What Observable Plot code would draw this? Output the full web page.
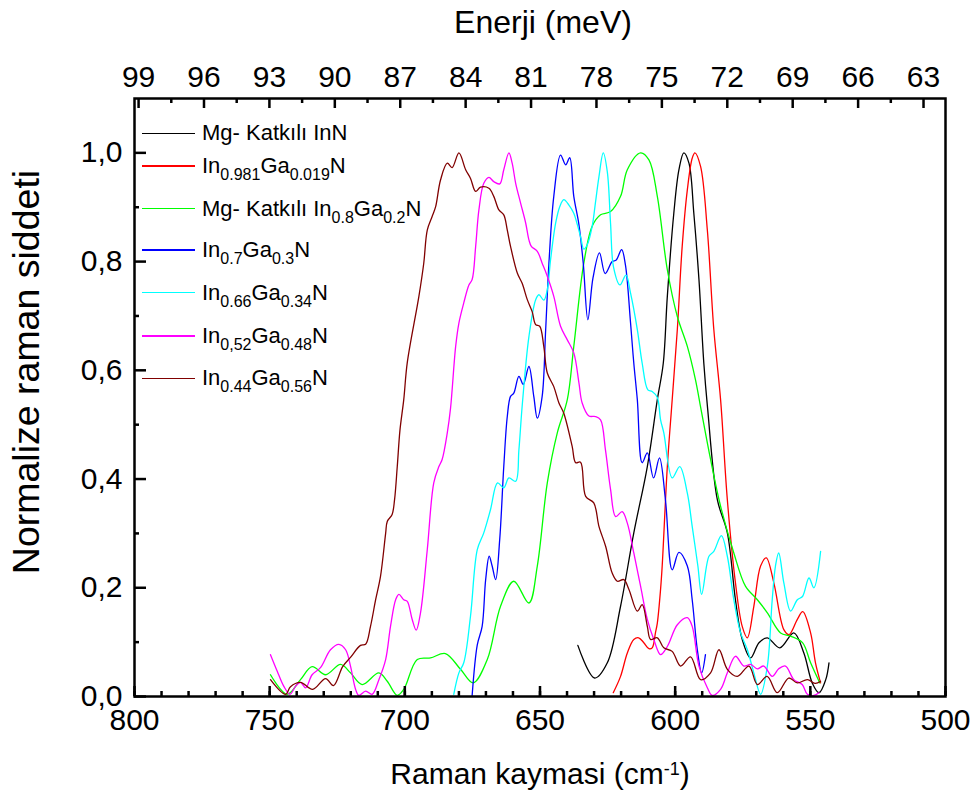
<!DOCTYPE html>
<html><head><meta charset="utf-8">
<script src="https://cdn.jsdelivr.net/npm/d3@7"></script>
<script src="https://cdn.jsdelivr.net/npm/@observablehq/plot@0.6"></script>
<style>
body{margin:0;background:#fff;font-family:"Liberation Sans",Arial,sans-serif;}
#wrap{position:relative;width:980px;height:805px;overflow:hidden;}
#wrap svg{position:absolute;left:0;top:0;}
.t{position:absolute;font-size:30px;line-height:30px;color:#000;white-space:nowrap;}
.t sup{font-size:18px;vertical-align:9px;line-height:0;}
.sw{position:absolute;height:1.4px;width:53px;left:142px;}
.lg{position:absolute;left:202px;font-size:22px;line-height:22px;white-space:nowrap;color:#000;}
.lg sub{font-size:16px;vertical-align:-7px;line-height:0;}
</style></head><body><div id="wrap"></div>
<script>
// ---- data (Raman shift cm^-1, normalized intensity) ----
const seriesNames = ["Mg- Katkılı InN","In0.981Ga0.019N","Mg- Katkılı In0.8Ga0.2N","In0.7Ga0.3N","In0.66Ga0.34N","In0,52Ga0.48N","In0.44Ga0.56N"];
const seriesLabelsHtml = ["Mg- Katkılı InN","In<sub>0.981</sub>Ga<sub>0.019</sub>N","Mg- Katkılı In<sub>0.8</sub>Ga<sub>0.2</sub>N","In<sub>0.7</sub>Ga<sub>0.3</sub>N","In<sub>0.66</sub>Ga<sub>0.34</sub>N","In<sub>0,52</sub>Ga<sub>0.48</sub>N","In<sub>0.44</sub>Ga<sub>0.56</sub>N"];
const seriesColors = ["#000000","#ff0000","#00ff00","#0000ff","#00ffff","#ff00ff","#800000"];

const mgInN = [[636.0,0.094],[629.8,0.034],[625.1,0.062],[620.2,0.166],[615.3,0.301],[610.3,0.423],[606.6,0.546],[604.4,0.613],[602.9,0.736],[600.5,0.889],[598.6,0.969],[596.8,1.0],[594.9,0.981],[593.1,0.889],[591.2,0.767],[589.4,0.613],[588.0,0.53],[584.4,0.362],[580.7,0.301],[577.7,0.178],[575.2,0.105],[572.1,0.071],[569.0,0.099],[565.9,0.108],[561.3,0.0895],[556.1,0.117],[552.4,0.080],[549.3,0.025],[546.8,0.007],[544.3,0.031],[543.1,0.062]];
const in0981 = [[622.9,0.007],[620.2,0.037],[617.7,0.080],[615.3,0.105],[613.5,0.108],[611.6,0.099],[609.7,0.088],[608.5,0.0895],[607.3,0.117],[606.6,0.135],[605.4,0.197],[604.8,0.240],[602.9,0.423],[601.1,0.546],[599.2,0.675],[597.4,0.828],[595.5,0.932],[593.7,0.990],[592.7,1.0],[590.6,0.975],[588.1,0.858],[585.7,0.675],[583.2,0.546],[580.7,0.362],[577.7,0.209],[575.2,0.129],[573.3,0.108],[570.9,0.166],[568.4,0.240],[566.3,0.255],[563.5,0.209],[559.8,0.123],[557.9,0.114],[554.8,0.142],[552.8,0.156],[549.9,0.117],[548.1,0.062],[546.2,0.025]];
const mgIn08 = [[749.7,0.040],[743.5,0.004],[738.6,0.031],[734.3,0.055],[729.3,0.040],[723.8,0.059],[720.1,0.0435],[715.8,0.022],[709.6,0.0435],[706.5,0.028],[702.8,0.002],[700.4,0.013],[695.4,0.068],[690.5,0.071],[685.0,0.079],[679.4,0.050],[674.7,0.025],[669.5,0.068],[664.6,0.166],[659.7,0.212],[654.1,0.172],[651.0,0.240],[647.3,0.393],[643.6,0.485],[639.9,0.546],[637.5,0.644],[633.8,0.797],[630.7,0.865],[627.6,0.886],[623.9,0.892],[620.2,0.920],[617.7,0.969],[612.8,1.0],[609.7,0.987],[606.6,0.920],[602.9,0.785],[599.2,0.699],[595.5,0.644],[592.5,0.583],[590.5,0.53],[586.9,0.436],[583.2,0.350],[578.3,0.264],[574.0,0.203],[569.6,0.178],[565.9,0.154],[561.0,0.117],[557.3,0.111],[552.9,0.099],[549.9,0.062],[546.5,0.025]];
const in07 = [[675.1,0.002],[673.2,0.095],[671.4,0.129],[670.1,0.215],[668.8,0.258],[667.7,0.240],[666.4,0.215],[664.9,0.289],[663.4,0.423],[662.1,0.515],[660.9,0.552],[659.7,0.558],[657.8,0.589],[656.2,0.574],[654.1,0.607],[652.3,0.552],[651.0,0.512],[649.2,0.552],[647.9,0.675],[646.7,0.797],[644.9,0.920],[642.4,0.996],[640.5,0.978],[639.0,0.991],[637.5,0.920],[635.6,0.868],[634.0,0.797],[632.3,0.693],[630.4,0.770],[628.0,0.816],[625.9,0.778],[623.3,0.800],[621.8,0.803],[619.8,0.822],[618.4,0.794],[616.5,0.687],[615.3,0.613],[614.0,0.546],[612.2,0.430],[610.3,0.448],[608.0,0.402],[605.8,0.439],[603.6,0.362],[601.1,0.233],[598.6,0.265],[595.5,0.240],[593.7,0.178],[591.8,0.086],[590.2,0.0435],[588.8,0.077]];
const in066 = [[681.9,0.004],[680.0,0.0435],[678.2,0.062],[675.7,0.148],[673.2,0.270],[670.8,0.301],[668.3,0.344],[665.7,0.393],[663.4,0.384],[661.5,0.402],[659.0,0.396],[657.8,0.454],[656.6,0.534],[654.1,0.662],[651.6,0.730],[650.4,0.739],[648.6,0.729],[647.3,0.748],[646.1,0.803],[644.2,0.871],[642.7,0.901],[641.2,0.914],[639.3,0.904],[637.5,0.889],[636.2,0.868],[635.0,0.846],[633.8,0.823],[632.5,0.831],[630.7,0.865],[629.5,0.908],[628.2,0.956],[626.6,1.0],[625.1,0.965],[623.9,0.870],[622.8,0.79],[620.4,0.757],[618.2,0.775],[616.5,0.742],[614.0,0.675],[612.2,0.613],[610.1,0.564],[608.5,0.561],[606.6,0.550],[605.4,0.509],[604.2,0.485],[601.1,0.402],[598.3,0.423],[595.5,0.374],[593.7,0.313],[591.6,0.240],[590.2,0.188],[587.5,0.258],[585.7,0.267],[582.9,0.296],[580.7,0.258],[578.3,0.178],[575.8,0.117],[573.3,0.086],[570.9,0.0435],[568.4,0.004],[565.9,0.056],[564.1,0.178],[562.9,0.240],[561.7,0.264],[559.8,0.209],[557.3,0.157],[554.8,0.178],[552.9,0.184],[550.5,0.218],[548.7,0.200],[546.2,0.267]];
const in052 = [[749.7,0.077],[747.2,0.0465],[744.8,0.019],[742.5,0.004],[740.4,0.019],[738.6,0.026],[736.7,0.016],[734.3,0.040],[731.2,0.053],[727.5,0.086],[724.4,0.096],[721.9,0.086],[720.1,0.056],[718.2,0.013],[717.0,0.002],[714.5,0.010],[712.1,0.004],[709.6,0.031],[707.1,0.068],[705.3,0.129],[703.4,0.178],[702.2,0.188],[700.4,0.178],[699.1,0.175],[697.3,0.142],[695.8,0.122],[694.2,0.154],[691.7,0.270],[689.3,0.393],[687.4,0.423],[686.2,0.436],[684.3,0.485],[683.1,0.530],[681.2,0.644],[680.0,0.687],[678.2,0.724],[676.3,0.757],[675.1,0.767],[673.8,0.828],[672.6,0.895],[670.8,0.944],[668.9,0.955],[667.1,0.947],[664.9,0.943],[663.4,0.969],[661.5,1.0],[660.3,0.981],[659.0,0.944],[657.2,0.908],[655.3,0.871],[654.1,0.840],[653.2,0.828],[651.0,0.819],[649.2,0.797],[647.3,0.773],[644.9,0.736],[642.4,0.681],[639.9,0.656],[637.5,0.632],[635.6,0.577],[634.4,0.540],[631.9,0.516],[629.5,0.515],[627.6,0.509],[625.8,0.454],[623.9,0.381],[622.0,0.331],[619.6,0.340],[617.7,0.319],[615.3,0.264],[612.8,0.203],[610.3,0.142],[607.9,0.105],[605.4,0.077],[602.9,0.092],[599.2,0.132],[595.5,0.145],[593.7,0.129],[591.2,0.056],[588.1,0.016],[586.3,0.002],[583.2,0.013],[580.7,0.0435],[577.7,0.074],[574.6,0.056],[572.1,0.059],[569.6,0.051],[567.2,0.056],[564.1,0.037],[561.7,0.051],[559.2,0.056],[556.1,0.031],[553.0,0.022],[551.1,0.004],[548.7,0.002],[546.8,0.007]];
const in044 = [[749.7,0.031],[744.1,0.004],[742.3,0.018],[738.6,0.026],[734.1,0.013],[729.3,0.033],[726.4,0.02],[723.0,0.055],[720.1,0.072],[716.4,0.094],[714.5,0.096],[712.7,0.129],[710.8,0.178],[709.0,0.221],[707.1,0.30],[706.5,0.322],[704.7,0.335],[703.8,0.362],[702.8,0.423],[701.8,0.49],[700.4,0.546],[699.1,0.614],[694.8,0.736],[693.0,0.797],[691.7,0.858],[689.9,0.883],[688.6,0.901],[686.8,0.950],[684.3,0.981],[682.5,0.973],[680.0,1.0],[677.5,0.969],[675.7,0.953],[673.8,0.929],[672.0,0.937],[668.9,0.935],[667.1,0.920],[665.2,0.895],[663.4,0.886],[662.1,0.858],[660.9,0.828],[658.4,0.779],[656.6,0.760],[654.7,0.730],[652.9,0.708],[651.6,0.684],[650.1,0.681],[648.6,0.644],[647.3,0.595],[644.9,0.570],[643.0,0.540],[641.2,0.521],[638.1,0.460],[636.8,0.430],[635.0,0.431],[633.1,0.368],[630.1,0.356],[628.2,0.313],[625.7,0.276],[623.3,0.227],[621.4,0.212],[619.0,0.215],[617.1,0.197],[614.0,0.157],[612.2,0.169],[610.3,0.129],[609.1,0.105],[606.6,0.108],[604.2,0.0895],[601.1,0.083],[598.0,0.056],[594.3,0.073],[590.6,0.031],[586.9,0.0435],[583.8,0.086],[580.7,0.050],[577.0,0.037],[572.7,0.056],[569.6,0.022],[566.0,0.037],[562.2,0.007],[558.0,0.034],[554.8,0.025],[551.1,0.031],[548.1,0.024],[546.2,0.028]];
const seriesPoints = [mgInN, in0981, mgIn08, in07, in066, in052, in044];

// ---- axes ----
const xTicks = [800,750,700,650,600,550,500];
const yTicks = [0,0.2,0.4,0.6,0.8,1.0];
const yMinor = [0.1,0.3,0.5,0.7,0.9];
const meVTicks = [99,96,93,90,87,84,81,78,75,72,69,66,63];
const meVMinor = [97.5,94.5,91.5,88.5,85.5,82.5,79.5,76.5,73.5,70.5,67.5,64.5];
const MEV_PER_CM = 0.123984;

const W = 980, H = 805, ML = 134, MR = 35, MT = 98, MB = 109;
const PW = W - ML - MR, PH = H - MT - MB;
const xMinor = d3.range(500, 801, 10);

const data = seriesPoints.flatMap((pts, i) => pts.map(([x, y]) => ({x, y, name: seriesNames[i]})));

const chart = Plot.plot({
  width: W, height: H,
  marginLeft: ML, marginRight: MR, marginTop: MT, marginBottom: MB,
  x: {domain: [800, 500]},
  y: {domain: [0, 1.1]},
  color: {domain: seriesNames, range: seriesColors},
  style: {fontFamily: '"Liberation Sans", Arial, sans-serif', fontSize: "30px", color: "#000", background: "transparent", overflow: "visible"},
  marks: [
    Plot.line(data, {x: "x", y: "y", z: "name", stroke: "name", curve: "catmull-rom", strokeWidth: 1.3}),
    Plot.tickX(xTicks, {x: d => d, insetTop: PH - 10, strokeWidth: 2.5}),
    Plot.tickX(xMinor, {x: d => d, insetTop: PH - 5, strokeWidth: 2.5}),
    Plot.tickY(yTicks, {y: d => d, insetRight: PW - 12, strokeWidth: 2.5}),
    Plot.tickY(yMinor, {y: d => d, insetRight: PW - 5, strokeWidth: 2.5}),
    Plot.tickX(meVTicks, {x: e => e / MEV_PER_CM, insetBottom: PH - 10, strokeWidth: 2.5}),
    Plot.tickX(meVMinor, {x: e => e / MEV_PER_CM, insetBottom: PH - 5, strokeWidth: 2.5}),
    Plot.axisX({anchor: "bottom", ticks: xTicks, tickSize: 0, tickPadding: 12, label: null, fontSize: 30, tickFormat: d => String(d)}),
    Plot.axisX({anchor: "top", ticks: meVTicks.map(e => e / MEV_PER_CM), tickSize: 0, tickPadding: 12, label: null, fontSize: 30, tickFormat: d => String(Math.round(d * MEV_PER_CM))}),
    Plot.axisY({anchor: "left", ticks: yTicks, tickSize: 0, tickPadding: 12, label: null, fontSize: 30, tickFormat: d => d.toFixed(1).replace(".", ",")}),
    Plot.frame({strokeWidth: 2.5})
  ]
});

const wrap = document.getElementById("wrap");
wrap.appendChild(chart);

function addDiv(cls, html, css) {
  const d = document.createElement("div");
  d.className = cls; d.innerHTML = html; Object.assign(d.style, css);
  wrap.appendChild(d); return d;
}
addDiv("t", "Enerji (meV)", {left: "543px", top: "6px", fontSize: "32px", lineHeight: "32px", transform: "translateX(-50%)"});
addDiv("t", "Raman kaymasi (cm<sup>-1</sup>)", {left: "540px", top: "759px", transform: "translateX(-50%)"});
addDiv("t", "Normalize raman siddeti", {left: (26 - 300) + "px", top: (372 - 19) + "px", width: "600px", fontSize: "37.5px", lineHeight: "38px", textAlign: "center", transform: "rotate(-90deg)"});

const legendY = [133.3, 166, 208.7, 250, 292.7, 336, 378.3];
seriesLabelsHtml.forEach((lab, i) => {
  addDiv("sw", "", {top: (legendY[i] - 0.7) + "px", background: seriesColors[i]});
  addDiv("lg", lab, {top: (legendY[i] - 11) + "px"});
});
</script></body></html>
